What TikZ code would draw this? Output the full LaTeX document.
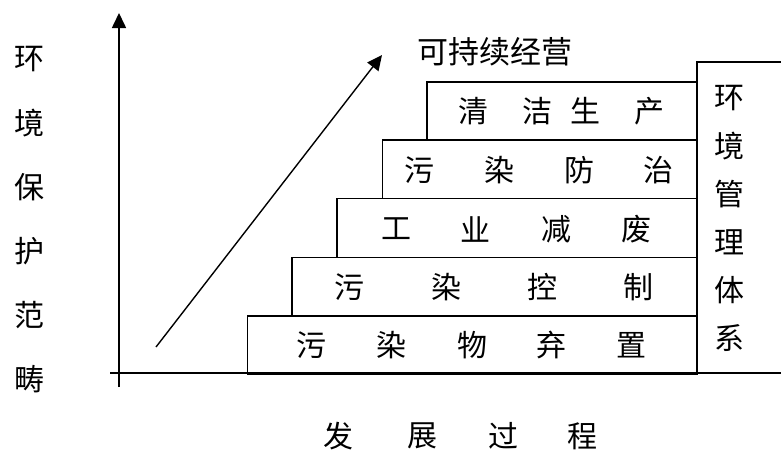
\documentclass[tikz,border=0pt]{standalone}
\usepackage{fontspec}
\newfontfamily\cjk{Noto Sans CJK SC}
\usetikzlibrary{arrows.meta}
\begin{document}
\begin{tikzpicture}[x=1pt,y=-1pt,
  stepbox/.style={draw,line width=1.6pt,inner sep=0pt,anchor=north west},
  ch/.style={font=\cjk\fontsize{30}{30}\selectfont,inner sep=0pt},
  axisline/.style={line width=1.6pt},
  arr/.style={line width=1.4pt,-{Triangle[length=15pt,width=14pt]}}]
\useasboundingbox (0,0) rectangle (781,450);
% steps
\node[stepbox,minimum width=450.2pt,minimum height=58pt] (b1) at (246.5,315) {};
\node[stepbox,minimum width=405.3pt,minimum height=58.3pt] (b2) at (291.4,256.7) {};
\node[stepbox,minimum width=360.4pt,minimum height=59pt] (b3) at (336.3,197.7) {};
\node[stepbox,minimum width=315.2pt,minimum height=58.7pt] (b4) at (381.5,139) {};
\node[stepbox,minimum width=270.3pt,minimum height=58pt] (b5) at (426.4,81) {};
% right box (open on the right)
\coordinate (rbtr) at (781,61.7);
\coordinate (rbtl) at (696.7,61.7);
\coordinate (rbbl) at (696.7,373);
\draw[line width=1.6pt] (rbtr) -- (rbtl) -- (rbbl);
% axes
\coordinate (yb) at (119,387);
\coordinate (yt) at (119,13);
\coordinate (xl) at (110,373);
\coordinate (xr) at (781,373);
\draw[axisline,-{Triangle[length=15pt,width=14pt]}] (yb) -- (yt);
\draw[axisline] (xl) -- (xr);
% growth arrow
\coordinate (ga) at (156,347);
\coordinate (gb) at (382,55);
\draw[arr] (ga) -- (gb);
% title
\node[ch,font=\cjk\fontsize{31}{31}\selectfont] (title) at (495,52) {可持续经营};
% box texts
\node[ch] (t11) at (311,345) {污};
\node[ch] (t12) at (391.4,345) {染};
\node[ch] (t13) at (472,345) {物};
\node[ch] (t14) at (551,345) {弃};
\node[ch] (t15) at (631.7,345) {置};
\node[ch] (t21) at (349,287) {污};
\node[ch] (t22) at (446.8,287) {染};
\node[ch] (t23) at (542.2,287) {控};
\node[ch] (t24) at (638.7,287) {制};
\node[ch] (t31) at (396.6,229) {工};
\node[ch] (t32) at (475.6,229) {业};
\node[ch] (t33) at (556.2,229) {减};
\node[ch] (t34) at (636.9,229) {废};
\node[ch] (t41) at (419.4,170) {污};
\node[ch] (t42) at (499.4,170) {染};
\node[ch] (t43) at (579,170) {防};
\node[ch] (t44) at (658.7,170) {治};
\node[ch] (t51) at (473,111) {清};
\node[ch] (t52) at (537,111) {洁};
\node[ch] (t53) at (585.4,111) {生};
\node[ch] (t54) at (649.2,111) {产};
% right box vertical text
\node[ch] (r1) at (729,98) {环};
\node[ch] (r2) at (729,146) {境};
\node[ch] (r3) at (729,194) {管};
\node[ch] (r4) at (729,242) {理};
\node[ch] (r5) at (729,290) {体};
\node[ch] (r6) at (729,338) {系};
% left label
\node[ch] (l1) at (29,59) {环};
\node[ch] (l2) at (29,123) {境};
\node[ch] (l3) at (29,187) {保};
\node[ch] (l4) at (29,251) {护};
\node[ch] (l5) at (29,315) {范};
\node[ch] (l6) at (29,379) {畴};
% bottom label
\node[ch] (d1) at (338,436) {发};
\node[ch] (d2) at (422,436) {展};
\node[ch] (d3) at (503,436) {过};
\node[ch] (d4) at (582,436) {程};
\end{tikzpicture}
\end{document}
